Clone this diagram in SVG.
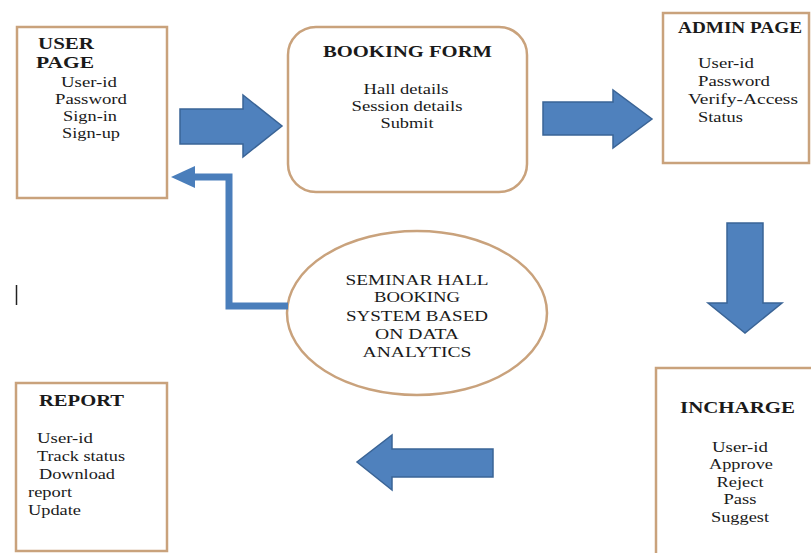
<svg xmlns="http://www.w3.org/2000/svg" width="811" height="553" viewBox="0 0 811 553">
<style>
.box{fill:#ffffff;stroke:#C9A27C;stroke-width:2.5}
.h{font-family:"Liberation Serif","Times New Roman",serif;font-weight:bold;font-size:16px;fill:#1a1a1a}
.t{font-family:"Liberation Serif","Times New Roman",serif;font-size:15.4px;fill:#1a1a1a}
.m{text-anchor:middle}
.arr{fill:#4F81BD;stroke:#3A6496;stroke-width:1.5;stroke-linejoin:miter}
.ln{fill:none;stroke:#4A7EBB;stroke-width:7}
</style>
<rect width="811" height="553" fill="#ffffff"/>

<g id="user-page">
<rect class="box" x="17" y="27" width="150" height="171"/>
<text class="h" x="38" y="49" textLength="56" lengthAdjust="spacingAndGlyphs">USER</text>
<text class="h" x="36" y="68" textLength="58" lengthAdjust="spacingAndGlyphs">PAGE</text>
<text class="t m" x="89" y="87" textLength="56" lengthAdjust="spacingAndGlyphs">User-id</text>
<text class="t m" x="91" y="104" textLength="72" lengthAdjust="spacingAndGlyphs">Password</text>
<text class="t m" x="90" y="121" textLength="54" lengthAdjust="spacingAndGlyphs">Sign-in</text>
<text class="t m" x="91" y="138" textLength="58" lengthAdjust="spacingAndGlyphs">Sign-up</text>
</g>

<g id="booking-form">
<rect class="box" x="288" y="27" width="239" height="165" rx="28" ry="28"/>
<text class="h" x="323" y="57" textLength="169" lengthAdjust="spacingAndGlyphs">BOOKING FORM</text>
<text class="t m" x="406" y="94" textLength="85" lengthAdjust="spacingAndGlyphs">Hall details</text>
<text class="t m" x="407" y="111" textLength="111" lengthAdjust="spacingAndGlyphs">Session details</text>
<text class="t m" x="407" y="128" textLength="53" lengthAdjust="spacingAndGlyphs">Submit</text>
</g>

<g id="admin-page">
<rect class="box" x="663" y="13" width="146" height="150"/>
<text class="h" x="678" y="33" textLength="124" lengthAdjust="spacingAndGlyphs">ADMIN PAGE</text>
<text class="t" x="698" y="68" textLength="56" lengthAdjust="spacingAndGlyphs">User-id</text>
<text class="t" x="698" y="86" textLength="72" lengthAdjust="spacingAndGlyphs">Password</text>
<text class="t" x="688" y="104" textLength="110" lengthAdjust="spacingAndGlyphs">Verify-Access</text>
<text class="t" x="698" y="122" textLength="45" lengthAdjust="spacingAndGlyphs">Status</text>
</g>

<g id="seminar-hall">
<ellipse class="box" cx="417" cy="313" rx="130" ry="82"/>
<text class="t m" x="417" y="285" textLength="143" lengthAdjust="spacingAndGlyphs">SEMINAR HALL</text>
<text class="t m" x="417" y="302" textLength="86" lengthAdjust="spacingAndGlyphs">BOOKING</text>
<text class="t m" x="417" y="321" textLength="142" lengthAdjust="spacingAndGlyphs">SYSTEM BASED</text>
<text class="t m" x="417" y="339" textLength="84" lengthAdjust="spacingAndGlyphs">ON DATA</text>
<text class="t m" x="417" y="357" textLength="109" lengthAdjust="spacingAndGlyphs">ANALYTICS</text>
</g>

<g id="incharge">
<rect class="box" x="656" y="368" width="170" height="200"/>
<text class="h" x="680" y="413" textLength="115" lengthAdjust="spacingAndGlyphs">INCHARGE</text>
<text class="t m" x="740" y="452" textLength="56" lengthAdjust="spacingAndGlyphs">User-id</text>
<text class="t m" x="741" y="469" textLength="64" lengthAdjust="spacingAndGlyphs">Approve</text>
<text class="t m" x="740" y="487" textLength="47" lengthAdjust="spacingAndGlyphs">Reject</text>
<text class="t m" x="740" y="504" textLength="33" lengthAdjust="spacingAndGlyphs">Pass</text>
<text class="t m" x="740" y="522" textLength="58" lengthAdjust="spacingAndGlyphs">Suggest</text>
</g>

<g id="report">
<rect class="box" x="16" y="383" width="151" height="168"/>
<text class="h" x="39" y="406" textLength="85" lengthAdjust="spacingAndGlyphs">REPORT</text>
<text class="t" x="37" y="443" textLength="56" lengthAdjust="spacingAndGlyphs">User-id</text>
<text class="t" x="37" y="461" textLength="88" lengthAdjust="spacingAndGlyphs">Track status</text>
<text class="t" x="39" y="479" textLength="76" lengthAdjust="spacingAndGlyphs">Download</text>
<text class="t" x="28" y="497" textLength="44" lengthAdjust="spacingAndGlyphs">report</text>
<text class="t" x="28" y="515" textLength="53" lengthAdjust="spacingAndGlyphs">Update</text>
</g>

<g id="connectors">
<polygon class="arr" points="180,109 243,109 243,95 282,126 243,157 243,144 180,144"/>
<polygon class="arr" points="543,102 613,102 613,90 652,119 613,148 613,135 543,135"/>
<polygon class="arr" points="727,223 763,223 763,303 782,303 745,333 708,303 727,303"/>
<polygon class="arr" points="493,449 392,449 392,435 357,462 392,490 392,477 493,477"/>
<path class="ln" d="M288,306 H229 V177 H192"/>
<polygon points="171,177 195,166 195,188" fill="#4A7EBB"/>
</g>

<line x1="16.5" y1="285" x2="16.5" y2="305" stroke="#222" stroke-width="1.5"/>
</svg>
